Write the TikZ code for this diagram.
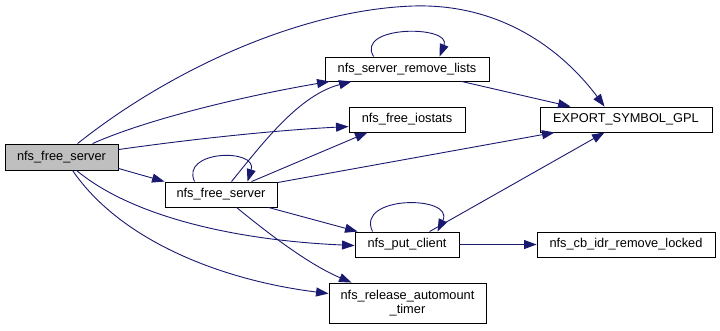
\documentclass[tikz,border=0pt]{standalone}
\usepackage{fontspec}
\setmainfont{Liberation Sans}
\usetikzlibrary{arrows.meta,calc}
\definecolor{edgeblue}{HTML}{191970}
\definecolor{rootgray}{HTML}{BFBFBF}
\begin{document}
\begin{tikzpicture}[x=1pt,y=-1pt,
  fn/.style={draw=black, line width=0.9pt, fill=white, rectangle, inner sep=0pt,
             font=\fontsize{12.8}{14}\selectfont, align=center},
  root/.style={fn, fill=rootgray},
  call/.style={draw=edgeblue, line width=0.9pt, -{Triangle[length=12.5pt,width=9pt]}}]
\useasboundingbox (0,0) rectangle (720,330);

% functions
\node[root, minimum width=113pt, minimum height=26pt] (A) at (61.5,157) {nfs\_free\_server};
\node[fn, minimum width=112pt, minimum height=25pt] (B) at (221,194.5) {nfs\_free\_server};
\node[fn, minimum width=164pt, minimum height=24pt] (C) at (407,69) {nfs\_server\_remove\_lists};
\node[fn, minimum width=116pt, minimum height=25pt] (D) at (407,119.5) {nfs\_free\_iostats};
\node[fn, minimum width=172pt, minimum height=25pt] (E) at (626,119.5) {EXPORT\_SYMBOL\_GPL};
\node[fn, minimum width=104pt, minimum height=25pt] (F) at (407,244.5) {nfs\_put\_client};
\node[fn, minimum width=178pt, minimum height=25pt] (G) at (626,244.5) {nfs\_cb\_idr\_remove\_locked};
\node[fn, minimum width=157pt, minimum height=40pt] (H) at (407.5,303) {nfs\_release\_automount\\\_timer};

% calls from the root
\draw[call] ($(A.north west)+(73,0)$) .. controls (170,70) and (300,10) .. (413,6)
            .. controls (510,3) and (570,60) .. ($(E.north west)+(65,0)$);
\draw[call] ($(A.north west)+(88,0)$) .. controls (150,118) and (250,95) .. ($(C.south west)+(5,0)$);
\draw[call] ($(A.north east)+(0,6)$) .. controls (200,138) and (280,130) .. ($(D.north west)+(0,20)$);
\draw[call] ($(A.south east)+(0,-2)$) -- (B.north west);
\draw[call] ($(A.south west)+(72,0)$) .. controls (130,215) and (230,240) .. ($(F.north west)+(0,14)$);
\draw[call] ($(A.south west)+(68,0)$) .. controls (120,240) and (220,280) .. ($(H.north west)+(0,11)$);

% calls from the inner nfs_free_server
\draw[call] ($(B.north west)+(30,0)$) .. controls (180,150) and (258,148) .. ($(B.north west)+(83,0)$);
\draw[call] ($(B.north west)+(67,0)$) .. controls (265,140) and (300,95) .. ($(C.south west)+(27,0)$);
\draw[call] ($(B.north west)+(87,0)$) -- ($(D.south west)+(19,0)$);
\draw[call] ($(B.north east)+(0,1)$) -- ($(E.south west)+(15,0)$);
\draw[call] ($(B.south east)+(-9,0)$) -- ($(F.north west)+(3,0)$);
\draw[call] ($(B.south west)+(72,0)$) .. controls (270,235) and (310,265) .. ($(H.north west)+(23,0)$);

% remaining calls
\draw[call] ($(C.north west)+(49,0)$) .. controls (355,25) and (452,25) .. ($(C.north west)+(115,0)$);
\draw[call] ($(C.south west)+(137,0)$) -- ($(E.north west)+(31,0)$);
\draw[call] ($(F.north west)+(18,0)$) .. controls (355,195) and (455,195) .. ($(F.north west)+(83,0)$);
\draw[call] ($(F.north west)+(75,0)$) -- ($(E.south west)+(65,0)$);
\draw[call] (F.east) -- (G.west);
\end{tikzpicture}
\end{document}
